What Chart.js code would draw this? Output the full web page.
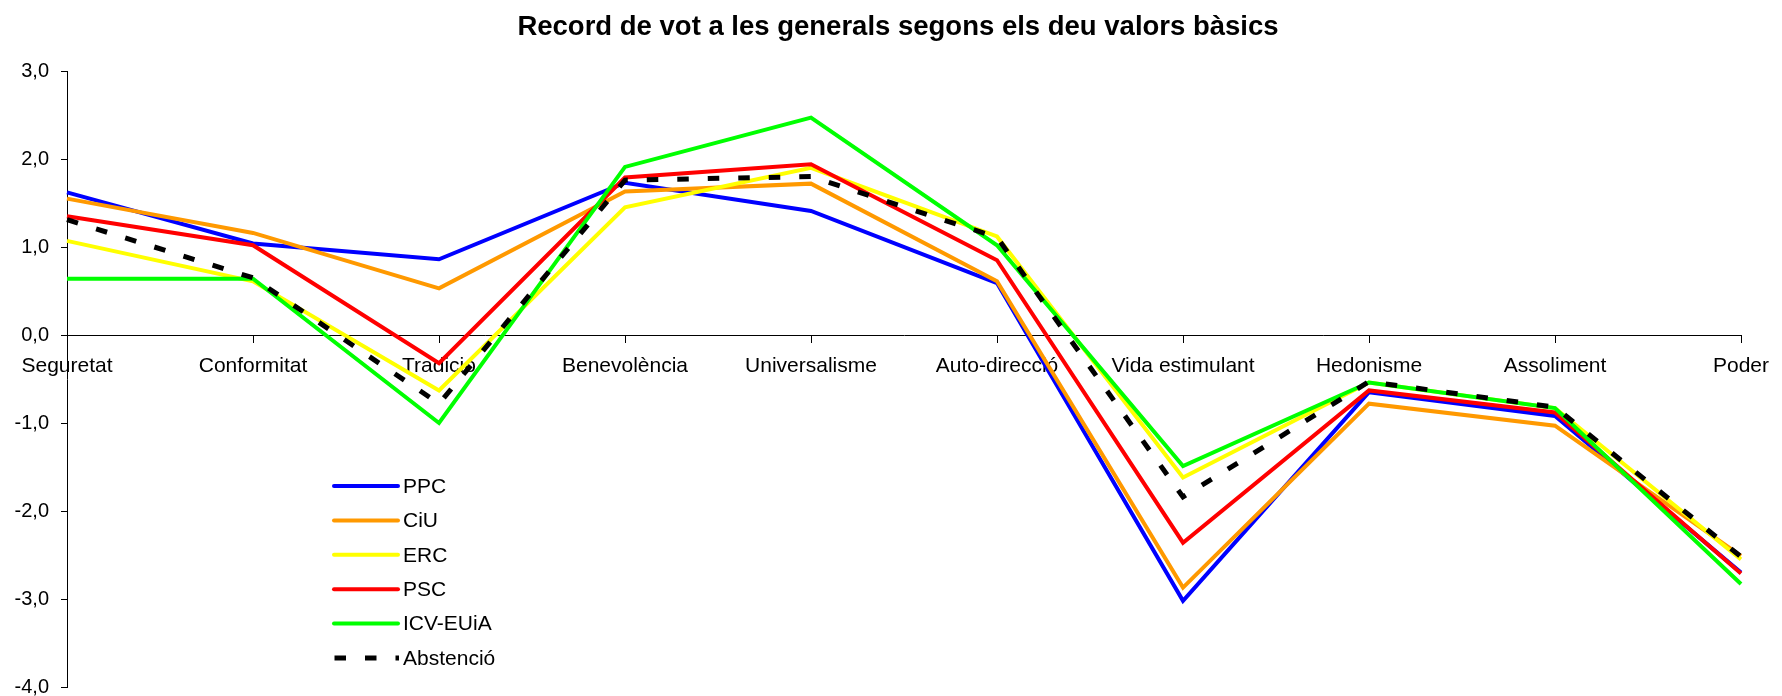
<!DOCTYPE html>
<html>
<head>
<meta charset="utf-8">
<script src="https://cdn.jsdelivr.net/npm/chart.js@4/dist/chart.umd.min.js"></script>
<style>
  html, body { margin: 0; padding: 0; background: #fff; }
  #wrap { position: relative; width: 1782px; height: 696px; }
</style>
</head>
<body>
<div id="wrap"><canvas id="valors"></canvas></div>
<script>
// valors bàsics (eix X)
const categories = ['Seguretat', 'Conformitat', 'Tradició', 'Benevolència', 'Universalisme',
  'Auto-direcció', 'Vida estimulant', 'Hedonisme', 'Assoliment', 'Poder'];

// puntuacions per partit
const ppc = [1.62, 1.04, 0.86, 1.73, 1.41, 0.59, -3.02, -0.65, -0.92, -2.70];
const ciu = [1.55, 1.16, 0.53, 1.63, 1.72, 0.61, -2.87, -0.78, -1.03, -2.51];
const erc = [1.07, 0.61, -0.63, 1.45, 1.90, 1.12, -1.62, -0.54, -0.83, -2.55];
const psc = [1.35, 1.02, -0.32, 1.79, 1.94, 0.85, -2.36, -0.63, -0.88, -2.71];
const icv = [0.64, 0.64, -1.00, 1.91, 2.47, 1.02, -1.49, -0.54, -0.83, -2.83];
const abstencio = [1.31, 0.65, -0.78, 1.76, 1.80, 1.11, -1.84, -0.53, -0.82, -2.52];

// eix Y
const yTicks = [3, 2, 1, 0, -1, -2, -3, -4];

const FONT = 'Arial, "Liberation Sans", sans-serif';

const serie = (label, data, color, order, extra) => Object.assign({
  label, data,
  borderColor: color,
  backgroundColor: color,
  borderWidth: 4,
  pointRadius: 0,
  pointHoverRadius: 0,
  tension: 0,
  fill: false,
  order
}, extra || {});

// llegenda dibuixada dins l'àrea del gràfic
const llegenda = {
  id: 'llegenda',
  afterDraw(chart) {
    const ctx = chart.ctx;
    ctx.save();
    ctx.font = '21px ' + FONT;
    ctx.textBaseline = 'middle';
    ctx.fillStyle = '#000';
    chart.data.datasets.forEach((ds, i) => {
      const y = 486 + i * 34.4;
      ctx.beginPath();
      ctx.strokeStyle = ds.borderColor;
      ctx.lineWidth = ds.borderWidth;
      if (ds.borderDash) {
        ctx.setLineDash(ds.borderDash);
        ctx.lineCap = 'butt';
        ctx.moveTo(334.5, y);
        ctx.lineTo(399, y);
      } else {
        ctx.setLineDash([]);
        ctx.lineCap = 'round';
        ctx.moveTo(334, y);
        ctx.lineTo(398, y);
      }
      ctx.stroke();
      ctx.fillText(ds.label, 403, y + 1);
    });
    ctx.restore();
  }
};

new Chart(document.getElementById('valors'), {
  type: 'line',
  data: {
    labels: categories,
    datasets: [
      serie('PPC', ppc, '#0000ff', 6),
      serie('CiU', ciu, '#ff9900', 5),
      serie('ERC', erc, '#ffff00', 4),
      serie('PSC', psc, '#ff0000', 3),
      serie('ICV-EUiA', icv, '#00ff00', 2),
      serie('Abstenció', abstencio, '#000000', 1, { borderWidth: 5, borderDash: [11.5, 19], borderCapStyle: 'butt' })
    ]
  },
  options: {
    responsive: true,
    maintainAspectRatio: false,
    animation: false,
    events: [],
    layout: { padding: { top: 0, left: 14, right: 0, bottom: 9 } },
    plugins: {
      legend: { display: false },
      tooltip: { enabled: false },
      title: {
        display: true,
        text: 'Record de vot a les generals segons els deu valors bàsics',
        color: '#000',
        font: { family: FONT, size: 27.5, weight: 'bold', lineHeight: 1.2 },
        padding: { top: 11, bottom: 27 }
      }
    },
    scales: {
      x: {
        position: { y: 0 },
        offset: false,
        grid: { display: true, drawOnChartArea: false, drawTicks: true, tickLength: 7, color: '#000', lineWidth: 1 },
        border: { display: true, color: '#000', width: 1 },
        ticks: { color: '#000', font: { family: FONT, size: 21 }, padding: 12, maxRotation: 0, autoSkip: false },
        // marge dret fix perquè l'últim valor quedi a x = 1741
        afterFit(scale) { scale.paddingLeft = 0; scale.paddingRight = 41; }
      },
      y: {
        position: 'left',
        min: -4,
        max: 3,
        afterBuildTicks(scale) { scale.ticks = yTicks.map(v => ({ value: v })); },
        grid: { display: true, drawOnChartArea: false, drawTicks: true, tickLength: 6, color: '#000', lineWidth: 1 },
        border: { display: true, color: '#000', width: 1 },
        ticks: {
          color: '#000',
          font: { family: FONT, size: 20 },
          padding: 12,
          callback: v => v.toFixed(1).replace('.', ',')
        },
        afterFit(scale) { scale.width = 53; scale.paddingTop = 0; scale.paddingBottom = 0; }
      }
    }
  },
  plugins: [llegenda]
});
</script>
</body>
</html>
